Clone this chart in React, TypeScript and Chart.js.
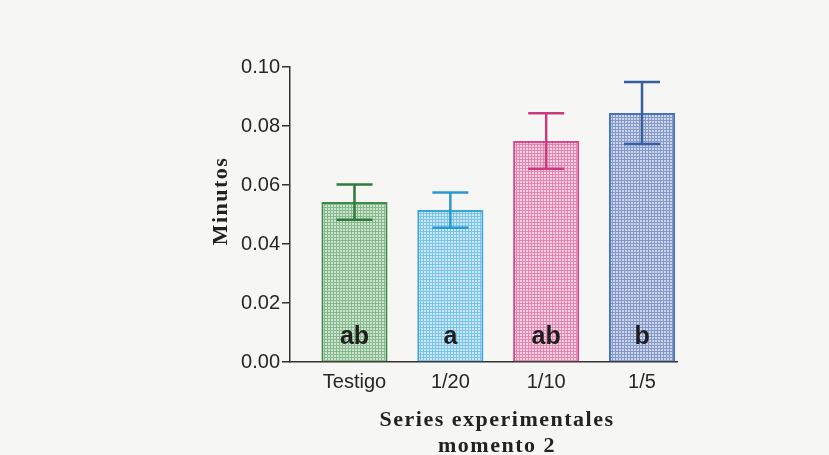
import React, { useEffect, useRef } from "react";
import { Chart, registerables } from "chart.js";

Chart.register(...registerables);

// Series experimentales, momento 2
const categories = ["Testigo", "1/20", "1/10", "1/5"];
const meanValues = [0.0542, 0.0515, 0.0749, 0.0844];
const errorValues = [0.006, 0.006, 0.0094, 0.0105];
const groupLetters = ["ab", "a", "ab", "b"];
const yTicks = [0, 0.02, 0.04, 0.06, 0.08, 0.1];

const borderColors = ["#3f8a4a", "#3aa6d8", "#d64b8c", "#4573b8"];
const whiskerColors = ["#2f7a3a", "#2a98d0", "#c93a7f", "#34609f"];
const fillLight = ["#cce4cd", "#cbe8f6", "#f5cde0", "#ccd6ea"];
const fillLines = ["#86ba8d", "#7cc3e8", "#e08ab3", "#8599c8"];

const W = 829;
const H = 455;

function gridPattern(light: string, line: string): CanvasPattern | string {
  const tile = document.createElement("canvas");
  tile.width = 3;
  tile.height = 3;
  const c = tile.getContext("2d");
  if (!c) return light;
  c.fillStyle = light;
  c.fillRect(0, 0, 3, 3);
  c.fillStyle = line;
  c.fillRect(0, 0, 3, 1);
  c.fillRect(0, 0, 1, 3);
  const p = c.createPattern(tile, "repeat");
  return p || light;
}

const decorations = {
  id: "decorations",
  beforeDraw(chart: any) {
    const ctx = chart.ctx;
    ctx.save();
    ctx.fillStyle = "#f6f6f4";
    ctx.fillRect(0, 0, chart.width, chart.height);
    ctx.restore();
  },
  afterDatasetsDraw(chart: any) {
    const ctx = chart.ctx;
    const y = chart.scales.y;
    const meta = chart.getDatasetMeta(0);
    ctx.save();
    meta.data.forEach((bar: any, i: number) => {
      const x = bar.x;
      const top = y.getPixelForValue(meanValues[i] + errorValues[i]);
      const bottom = y.getPixelForValue(meanValues[i] - errorValues[i]);
      const half = 18;
      ctx.strokeStyle = whiskerColors[i];
      ctx.lineWidth = 2.5;
      ctx.beginPath();
      ctx.moveTo(x, top);
      ctx.lineTo(x, bottom);
      ctx.moveTo(x - half, top);
      ctx.lineTo(x + half, top);
      ctx.moveTo(x - half, bottom);
      ctx.lineTo(x + half, bottom);
      ctx.stroke();

      ctx.fillStyle = "#1e1e1e";
      ctx.font = "bold 25px 'Liberation Sans', Arial, sans-serif";
      ctx.textAlign = "center";
      ctx.textBaseline = "alphabetic";
      ctx.fillText(groupLetters[i], x, y.getPixelForValue(0) - 18);
    });
    ctx.restore();
  },
  afterDraw(chart: any) {
    const ctx = chart.ctx;
    const area = chart.chartArea;
    ctx.save();
    ctx.fillStyle = "#222";
    ctx.textAlign = "center";
    ctx.textBaseline = "middle";
    ctx.font = "bold 22px 'Liberation Serif', 'Times New Roman', serif";
    (ctx as any).letterSpacing = "1.5px";
    const cx = 497;
    ctx.fillText("Series experimentales", cx, area.bottom + 58);
    ctx.fillText("momento 2", cx, area.bottom + 84);

    ctx.font = "bold 22px 'Liberation Serif', 'Times New Roman', serif";
    (ctx as any).letterSpacing = "1.5px";
    ctx.translate(221, 201);
    ctx.rotate(-Math.PI / 2);
    ctx.fillText("Minutos", 0, 0);
    ctx.restore();
  },
};

export default function App() {
  const ref = useRef<HTMLCanvasElement | null>(null);

  useEffect(() => {
    if (!ref.current) return;
    const patterns = categories.map((_, i) => gridPattern(fillLight[i], fillLines[i]));
    const chart = new Chart(ref.current, {
      type: "bar",
      data: {
        datasets: [
          {
            label: "Minutos",
            data: meanValues.map((v, i) => ({ x: i, y: v })),
            backgroundColor: patterns as any,
            borderColor: borderColors,
            borderWidth: 2,
            barPercentage: 0.69,
            categoryPercentage: 1,
          },
        ],
      },
      options: {
        responsive: false,
        animation: false,
        layout: { padding: { top: 67, right: 152, left: 0, bottom: 0 } },
        plugins: {
          legend: { display: false },
          tooltip: { enabled: false },
        },
        scales: {
          x: {
            type: "linear",
            offset: false,
            min: -0.673,
            max: 3.365,
            afterFit: (s: any) => {
              s.height = 93;
            },
            grid: { display: false, drawTicks: false, offset: false },
            border: { display: true, color: "#333", width: 1.5 },
            ticks: {
              stepSize: 1,
              includeBounds: false,
              padding: 8,
              color: "#262626",
              font: { family: "'Liberation Sans', Arial, sans-serif", size: 20 },
              callback: (v: any) => {
                const n = Number(v);
                return Number.isInteger(n) && n >= 0 && n < categories.length ? categories[n] : "";
              },
              maxRotation: 0,
              autoSkip: false,
            },
          },
          y: {
            min: yTicks[0],
            max: yTicks[yTicks.length - 1],
            afterFit: (s: any) => {
              s.width = 290;
            },
            afterBuildTicks: (s: any) => {
              s.ticks = yTicks.map((v) => ({ value: v }));
            },
            grid: {
              display: true,
              drawOnChartArea: false,
              drawTicks: true,
              tickLength: 8,
              color: "#333",
              lineWidth: 1.5,
            },
            border: { display: true, color: "#333", width: 1.5 },
            ticks: {
              padding: 2,
              color: "#262626",
              font: { family: "'Liberation Sans', Arial, sans-serif", size: 20 },
              callback: (v: any) => Number(v).toFixed(2),
            },
          },
        },
      },
      plugins: [decorations],
    });
    return () => chart.destroy();
  }, []);

  return (
    <div style={{ position: "fixed", left: 0, top: 0, width: W, height: H, background: "#f6f6f4" }}>
      <canvas ref={ref} width={W} height={H} style={{ width: W, height: H, display: "block" }} />
    </div>
  );
}
